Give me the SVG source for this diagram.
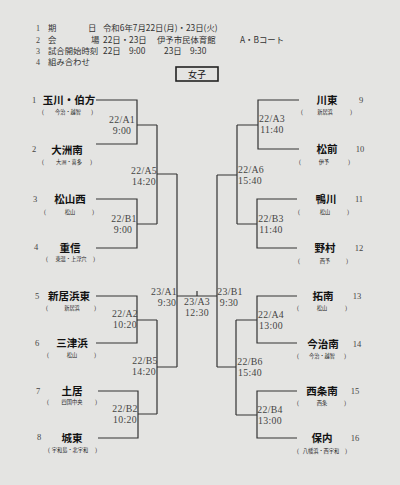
<svg xmlns="http://www.w3.org/2000/svg" width="400" height="485" viewBox="0 0 400 485">
<style>
.bg{fill:#e4e4e2}
.ln{fill:none;stroke:#333;stroke-width:1.2}
.hd{font-family:"Noto Sans CJK JP","Noto Sans",sans-serif;font-size:8.4px;fill:#333}
.hn{font-family:"Liberation Serif",serif;font-size:8px;fill:#444}
.tm{font-family:"Noto Sans CJK JP",sans-serif;font-size:10.5px;font-weight:bold;fill:#111;text-anchor:middle}
.sb{font-family:"Noto Sans CJK JP",sans-serif;font-size:5.2px;fill:#222;text-anchor:middle}
.pr{font-family:"Liberation Serif",serif;font-size:6px;fill:#444;text-anchor:middle}
.nm{font-family:"Liberation Serif",serif;font-size:8.5px;fill:#444;text-anchor:middle}
.lb{font-family:"Liberation Serif",serif;font-size:9.8px;letter-spacing:0.3px;fill:#444;text-anchor:middle}
.bx{fill:none;stroke:#222;stroke-width:1.6}
</style>
<rect class="bg" x="0" y="0" width="400" height="485"/>
<g id="header">
<text class="hn" x="36" y="31">1</text><text class="hd" x="48" y="31">期</text><text class="hd" x="88" y="31">日</text><text class="hd" x="103" y="31">令和6年7月22日(月)・23日(火)</text>
<text class="hn" x="36" y="43">2</text><text class="hd" x="48" y="43">会</text><text class="hd" x="91" y="43">場</text><text class="hd" x="103" y="43">22日・23日</text><text class="hd" x="157" y="43">伊予市民体育館</text><text class="hd" x="240" y="43">A・Bコート</text>
<text class="hn" x="36" y="54">3</text><text class="hd" x="48" y="54">試合開始時刻</text><text class="hd" x="103" y="54">22日　9:00</text><text class="hd" x="164" y="54">23日　9:30</text>
<text class="hn" x="36" y="65">4</text><text class="hd" x="48" y="65">組み合わせ</text>
</g>
<g id="title">
<rect class="bx" x="176" y="67" width="42" height="14"/>
<text class="tm" x="197" y="77.5" style="font-weight:normal;font-size:9px">女子</text>
</g>
<g id="connectors">
<path class="ln" d="M96,100H137V144H96M137,125H157M96,199H137V248H96M137,224H157M157,125V224M157,174H177"/>
<path class="ln" d="M96,296H137V343H96M137,320H157M98,391H138V438H98M138,414H157M157,320V414M157,367H177M177,174V367"/>
<path class="ln" d="M177,296H217M197,291V296"/>
<path class="ln" d="M299,100H258V149H299M258,125H237M297,199H257V248H297M257,224H237M237,125V224M237,175H217"/>
<path class="ln" d="M297,296H257V343H297M257,320H236M297,391H257V438H297M257,415H236M236,320V415M236,367H217M217,175V367"/>
</g>
<g id="labels">
<g id="m22A1"><text class="lb" x="122" y="123">22/A1</text><text class="lb" x="122" y="134">9:00</text></g>
<g id="m22B1"><text class="lb" x="124" y="222">22/B1</text><text class="lb" x="123" y="233">9:00</text></g>
<g id="m22A5"><text class="lb" x="144" y="174">22/A5</text><text class="lb" x="144" y="185">14:20</text></g>
<g id="m22A2"><text class="lb" x="125" y="317">22/A2</text><text class="lb" x="125" y="328">10:20</text></g>
<g id="m22B5"><text class="lb" x="145" y="364">22/B5</text><text class="lb" x="144" y="375">14:20</text></g>
<g id="m22B2"><text class="lb" x="125" y="412">22/B2</text><text class="lb" x="125" y="423">10:20</text></g>
<g id="m23A1"><text class="lb" x="164" y="295">23/A1</text><text class="lb" x="167" y="306">9:30</text></g>
<g id="m23A3"><text class="lb" x="197" y="305">23/A3</text><text class="lb" x="197" y="316">12:30</text></g>
<g id="m23B1"><text class="lb" x="230" y="295">23/B1</text><text class="lb" x="229" y="306">9:30</text></g>
<g id="m22A3"><text class="lb" x="272" y="122">22/A3</text><text class="lb" x="272" y="133">11:40</text></g>
<g id="m22B3"><text class="lb" x="271" y="222">22/B3</text><text class="lb" x="271" y="233">11:40</text></g>
<g id="m22A6"><text class="lb" x="251" y="173">22/A6</text><text class="lb" x="250" y="184">15:40</text></g>
<g id="m22A4"><text class="lb" x="271" y="318">22/A4</text><text class="lb" x="271" y="329">13:00</text></g>
<g id="m22B6"><text class="lb" x="250" y="365">22/B6</text><text class="lb" x="250" y="376">15:40</text></g>
<g id="m22B4"><text class="lb" x="270" y="413">22/B4</text><text class="lb" x="270" y="424">13:00</text></g>
</g>
<g id="team1"><text class="nm" x="34" y="103">1</text><text class="tm" x="69" y="104">玉川・伯方</text><text class="pr" x="43" y="114">(</text><text class="sb" x="68" y="114">今治・越智</text><text class="pr" x="92" y="114">)</text></g>
<g id="team2"><text class="nm" x="34" y="152">2</text><text class="tm" x="67" y="154">大洲南</text><text class="pr" x="43" y="164">(</text><text class="sb" x="69" y="164">大洲・喜多</text><text class="pr" x="91" y="164">)</text></g>
<g id="team3"><text class="nm" x="35" y="202">3</text><text class="tm" x="70" y="203">松山西</text><text class="pr" x="45" y="214">(</text><text class="sb" x="70" y="214">松山</text><text class="pr" x="93" y="214">)</text></g>
<g id="team4"><text class="nm" x="36" y="250">4</text><text class="tm" x="70" y="252">重信</text><text class="pr" x="47" y="261">(</text><text class="sb" x="71" y="261">東温・上浮穴</text><text class="pr" x="94" y="261">)</text></g>
<g id="team5"><text class="nm" x="37" y="299">5</text><text class="tm" x="69" y="300">新居浜東</text><text class="pr" x="47" y="310">(</text><text class="sb" x="72" y="310">新居浜</text><text class="pr" x="95" y="310">)</text></g>
<g id="team6"><text class="nm" x="37" y="346">6</text><text class="tm" x="72" y="347">三津浜</text><text class="pr" x="48" y="357">(</text><text class="sb" x="72" y="357">松山</text><text class="pr" x="95" y="357">)</text></g>
<g id="team7"><text class="nm" x="38" y="394">7</text><text class="tm" x="72" y="395">土居</text><text class="pr" x="48" y="404">(</text><text class="sb" x="72" y="404">四国中央</text><text class="pr" x="96" y="404">)</text></g>
<g id="team8"><text class="nm" x="39" y="440">8</text><text class="tm" x="72" y="442">城東</text><text class="pr" x="49" y="452">(</text><text class="sb" x="70" y="452">宇和島・北宇和</text><text class="pr" x="96" y="452">)</text></g>
<g id="team9"><text class="nm" x="361" y="103">9</text><text class="tm" x="327" y="104">川東</text><text class="pr" x="302" y="114">(</text><text class="sb" x="325" y="114">新居浜</text><text class="pr" x="351" y="114">)</text></g>
<g id="team10"><text class="nm" x="360" y="152">10</text><text class="tm" x="327" y="153">松前</text><text class="pr" x="300" y="164">(</text><text class="sb" x="324" y="164">伊予</text><text class="pr" x="349" y="164">)</text></g>
<g id="team11"><text class="nm" x="359" y="202">11</text><text class="tm" x="326" y="203">鴨川</text><text class="pr" x="299" y="214">(</text><text class="sb" x="325" y="214">松山</text><text class="pr" x="348" y="214">)</text></g>
<g id="team12"><text class="nm" x="359" y="251">12</text><text class="tm" x="325" y="252">野村</text><text class="pr" x="299" y="263">(</text><text class="sb" x="325" y="263">西予</text><text class="pr" x="347" y="263">)</text></g>
<g id="team13"><text class="nm" x="357" y="299">13</text><text class="tm" x="323" y="300">拓南</text><text class="pr" x="298" y="310">(</text><text class="sb" x="322" y="310">松山</text><text class="pr" x="346" y="310">)</text></g>
<g id="team14"><text class="nm" x="357" y="347">14</text><text class="tm" x="323" y="348">今治南</text><text class="pr" x="298" y="358">(</text><text class="sb" x="322" y="358">今治・越智</text><text class="pr" x="345" y="358">)</text></g>
<g id="team15"><text class="nm" x="355" y="394">15</text><text class="tm" x="322" y="395">西条南</text><text class="pr" x="298" y="405">(</text><text class="sb" x="322" y="405">西条</text><text class="pr" x="345" y="405">)</text></g>
<g id="team16"><text class="nm" x="355" y="441">16</text><text class="tm" x="322" y="442">保内</text><text class="pr" x="298" y="453">(</text><text class="sb" x="321" y="453">八幡浜・西宇和</text><text class="pr" x="346" y="453">)</text></g>
</svg>
